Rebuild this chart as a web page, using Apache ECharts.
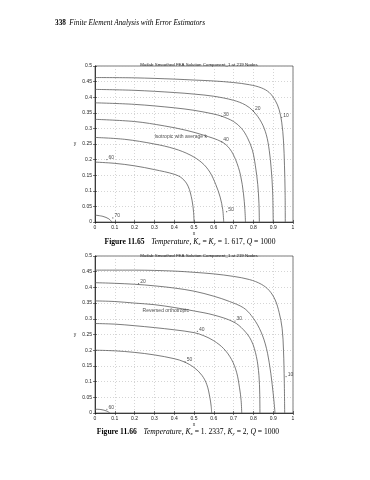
<!DOCTYPE html>
<html><head><meta charset="utf-8">
<script src="https://cdn.jsdelivr.net/npm/echarts@6/dist/echarts.min.js"></script>
<style>html,body{margin:0;padding:0;background:#fff}#c{width:370px;height:480px}</style>
</head><body><div id="c"></div>
<script>
// ---- data ----
const chartTitle = 'Matlab Smoothed FEA Solution Component_1 at 219 Nodes';
const xRange = [0, 1];
const yRange = [0, 0.5];
const xStep = 0.1;
const yStep = 0.05;

// Figure 11.65 (isotropic) contour lines, [x, y]
const iso10 = [[0,0.463],[0.2,0.462],[0.4,0.458],[0.5,0.455],[0.6,0.452],[0.7,0.447],[0.78,0.44],[0.84,0.43],[0.88,0.415],[0.91,0.39],[0.93,0.36],[0.943,0.32],[0.952,0.26],[0.957,0.18],[0.96,0.1],[0.961,0]];
const iso20 = [[0,0.425],[0.2,0.422],[0.4,0.415],[0.5,0.41],[0.6,0.403],[0.7,0.39],[0.76,0.375],[0.8,0.355],[0.84,0.32],[0.865,0.28],[0.88,0.23],[0.89,0.17],[0.897,0.1],[0.9,0]];
const iso30 = [[0,0.382],[0.2,0.377],[0.4,0.366],[0.5,0.358],[0.6,0.346],[0.64,0.339],[0.7,0.322],[0.74,0.3],[0.77,0.27],[0.795,0.23],[0.81,0.18],[0.822,0.12],[0.828,0.06],[0.83,0]];
const iso40 = [[0,0.329],[0.2,0.322],[0.35,0.308],[0.46,0.294],[0.55,0.278],[0.64,0.257],[0.68,0.235],[0.71,0.2],[0.735,0.15],[0.75,0.09],[0.757,0.04],[0.76,0]];
const iso50 = [[0,0.271],[0.15,0.265],[0.3,0.25],[0.4,0.235],[0.48,0.215],[0.54,0.19],[0.58,0.16],[0.61,0.12],[0.632,0.08],[0.645,0.04],[0.65,0]];
const iso60 = [[0,0.192],[0.1,0.188],[0.2,0.18],[0.3,0.168],[0.4,0.153],[0.44,0.14],[0.47,0.115],[0.49,0.07],[0.498,0.03],[0.5,0]];
const iso70 = [[0,0.022],[0.04,0.018],[0.07,0.01],[0.085,0]];
const isoLabels = [[0.943,0.335,'10'],[0.80,0.356,'20'],[0.64,0.339,'30'],[0.64,0.257,'40'],[0.665,0.033,'50'],[0.06,0.2,'60'],[0.09,0.013,'70']];
const isoNote = [[0.30,0.275,'Isotropic with average k']];

// Figure 11.66 (reversed orthotropic) contour lines, [x, y]
const ort10 = [[0,0.455],[0.2,0.455],[0.4,0.452],[0.5,0.448],[0.6,0.443],[0.7,0.435],[0.78,0.425],[0.84,0.41],[0.88,0.39],[0.91,0.36],[0.93,0.32],[0.945,0.27],[0.952,0.2],[0.956,0.1],[0.958,0]];
const ort20 = [[0,0.415],[0.1,0.413],[0.2,0.41],[0.3,0.405],[0.4,0.398],[0.5,0.388],[0.6,0.372],[0.68,0.355],[0.75,0.335],[0.79,0.31],[0.83,0.27],[0.86,0.22],[0.88,0.16],[0.895,0.09],[0.905,0.03],[0.909,0]];
const ort30 = [[0,0.357],[0.1,0.355],[0.2,0.35],[0.3,0.345],[0.4,0.336],[0.5,0.325],[0.6,0.312],[0.7,0.29],[0.75,0.265],[0.79,0.23],[0.815,0.18],[0.828,0.12],[0.832,0.06],[0.833,0]];
const ort40 = [[0,0.285],[0.1,0.283],[0.2,0.278],[0.3,0.272],[0.4,0.265],[0.5,0.256],[0.55,0.246],[0.6,0.23],[0.65,0.205],[0.69,0.17],[0.715,0.13],[0.73,0.08],[0.738,0.04],[0.741,0]];
const ort50 = [[0,0.2],[0.1,0.198],[0.2,0.193],[0.3,0.185],[0.4,0.173],[0.45,0.163],[0.5,0.145],[0.54,0.12],[0.565,0.09],[0.58,0.05],[0.587,0.02],[0.589,0]];
const ort60 = [[0,0.012],[0.03,0.011],[0.06,0.006],[0.075,0]];
const ortLabels = [[0.965,0.116,'10'],[0.22,0.412,'20'],[0.707,0.293,'30'],[0.517,0.26,'40'],[0.455,0.163,'50'],[0.06,0.012,'60']];
const ortNote = [[0.24,0.327,'Reversed orthotropic']];

// ---- chart ----
const lineCol = '#5a5a5a';
const sans = 'Liberation Sans, Arial, sans-serif';
const serif = 'Liberation Serif, Times New Roman, serif';
const grids = [
  {left: 95, top: 66, width: 198, height: 156, show: true, borderColor: '#222', borderWidth: 0.6},
  {left: 95, top: 256, width: 198, height: 157, show: true, borderColor: '#222', borderWidth: 0.6}
];
function xAx(i, pos) {
  const main = pos === 'bottom';
  return {type: 'value', gridIndex: i, position: pos, min: xRange[0], max: xRange[1], interval: xStep,
    axisLine: {show: true, lineStyle: {color: '#222', width: 0.6}},
    axisTick: {show: true, inside: true, length: 2, lineStyle: {color: '#222', width: 0.6}},
    axisLabel: {show: main, fontSize: 5, color: '#222', fontFamily: sans, margin: 3},
    splitLine: {show: main, lineStyle: {type: [1, 2], color: '#b8b8b8', width: 0.6}},
    name: main ? 'x' : '', nameLocation: 'middle', nameGap: 9, nameTextStyle: {fontSize: 5, color: '#222', fontFamily: sans}};
}
function yAx(i, pos) {
  const main = pos === 'left';
  return {type: 'value', gridIndex: i, position: pos, min: yRange[0], max: yRange[1], interval: yStep,
    axisLine: {show: true, lineStyle: {color: '#222', width: 0.6}},
    axisTick: {show: true, inside: true, length: 2, lineStyle: {color: '#222', width: 0.6}},
    axisLabel: {show: main, fontSize: 5, color: '#222', fontFamily: sans, margin: 3},
    splitLine: {show: main, lineStyle: {type: [1, 2], color: '#b8b8b8', width: 0.6}},
    name: main ? 'y' : '', nameLocation: 'middle', nameGap: 12, nameRotate: 0, nameTextStyle: {fontSize: 5, color: '#222', fontFamily: sans}};
}
function contour(data, gi) {
  return {type: 'line', data: data, xAxisIndex: gi * 2, yAxisIndex: gi * 2, showSymbol: false, smooth: 0.35,
    lineStyle: {color: lineCol, width: 0.8}, silent: true, z: 3};
}
function labels(data, gi, size) {
  return {type: 'scatter', data: data, xAxisIndex: gi * 2, yAxisIndex: gi * 2, symbol: 'circle', symbolSize: 1.2,
    itemStyle: {color: '#333'}, silent: true, z: 4,
    label: {show: true, position: 'right', distance: 1, formatter: p => p.data[2], fontSize: size, color: '#222', fontFamily: sans, offset: [0, -2]}};
}
function note(data, gi) {
  return {type: 'scatter', data: data, xAxisIndex: gi * 2, yAxisIndex: gi * 2, symbolSize: 0, silent: true, z: 4,
    label: {show: true, position: 'right', distance: 0, formatter: p => p.data[2], fontSize: 5, color: '#222', fontFamily: sans}};
}
const capRich = {
  b: {fontFamily: serif, fontWeight: 'bold', fontSize: 7.6, color: '#111'},
  i: {fontFamily: serif, fontStyle: 'italic', fontSize: 7.6, color: '#111'},
  n: {fontFamily: serif, fontSize: 7.6, color: '#111'},
  s: {fontFamily: serif, fontStyle: 'italic', fontSize: 5, color: '#111', padding: [4, 0, 0, 0]}
};
const option = {
  animation: false,
  backgroundColor: '#fff',
  title: [
    {text: chartTitle, left: 194, top: 58, textAlign: 'center', textStyle: {fontSize: 4.4, fontWeight: 'normal', color: '#222', fontFamily: sans}},
    {text: chartTitle, left: 194, top: 249, textAlign: 'center', textStyle: {fontSize: 4.4, fontWeight: 'normal', color: '#222', fontFamily: sans}}
  ],
  grid: grids,
  xAxis: [xAx(0, 'bottom'), xAx(0, 'top'), xAx(1, 'bottom'), xAx(1, 'top')],
  yAxis: [yAx(0, 'left'), yAx(0, 'right'), yAx(1, 'left'), yAx(1, 'right')],
  series: [
    contour(iso10, 0), contour(iso20, 0), contour(iso30, 0), contour(iso40, 0), contour(iso50, 0), contour(iso60, 0), contour(iso70, 0),
    labels(isoLabels, 0, 5), note(isoNote, 0),
    contour(ort10, 1), contour(ort20, 1), contour(ort30, 1), contour(ort40, 1), contour(ort50, 1), contour(ort60, 1),
    labels(ortLabels, 1, 5), note(ortNote, 1)
  ],
  graphic: [
    {type: 'text', x: 55, y: 23, style: {text: '{b|338} {i|Finite Element Analysis with Error Estimators}', textVerticalAlign: 'middle',
      rich: {b: {fontFamily: serif, fontWeight: 'bold', fontSize: 7.3, color: '#111'}, i: {fontFamily: serif, fontStyle: 'italic', fontSize: 7.3, color: '#111'}}}},
    {type: 'text', x: 190, y: 242, style: {text: '{b|Figure 11.65}  {i|Temperature, K}{s|x}{n| = }{i|K}{s|y}{n| = 1. 617, }{i|Q}{n| = 1000}', textAlign: 'center', textVerticalAlign: 'middle', rich: capRich}},
    {type: 'text', x: 188, y: 432, style: {text: '{b|Figure 11.66}  {i|Temperature, K}{s|x}{n| = 1. 2337, }{i|K}{s|y}{n| = 2, }{i|Q}{n| = 1000}', textAlign: 'center', textVerticalAlign: 'middle', rich: capRich}}
  ]
};
const chart = echarts.init(document.getElementById('c'), null, {renderer: 'canvas'});
chart.setOption(option);
</script>
</body></html>
